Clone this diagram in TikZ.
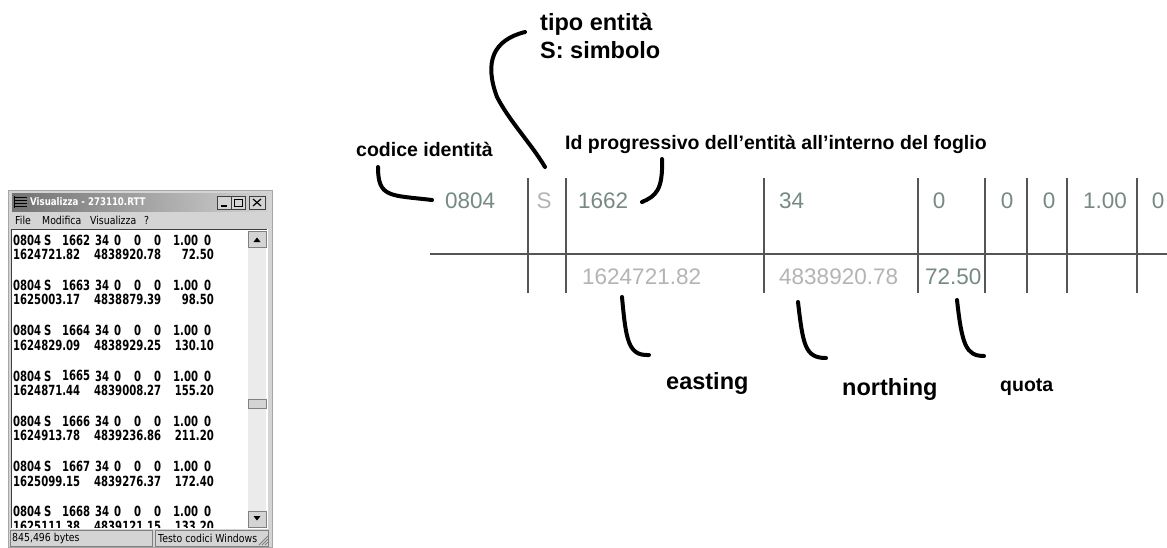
\documentclass[tikz,border=0pt]{standalone}
\usepackage{fontspec}
\setmainfont{Liberation Sans}
\newfontfamily\winfont[FakeStretch=0.72]{DejaVu Sans}
\newfontfamily\wintitle[FakeStretch=0.82]{DejaVu Sans}
\newfontfamily\winreg[FakeStretch=0.85]{DejaVu Sans}
\definecolor{valgreen}{HTML}{768A83}
\definecolor{vallight}{HTML}{B4B4B4}
\definecolor{gridgray}{HTML}{555555}
\definecolor{winface}{HTML}{D4D4D4}
\definecolor{windark}{HTML}{404040}
\tikzset{
  val/.style={font=\fontsize{22.5}{26}\selectfont, text=valgreen, inner sep=0pt},
  vallt/.style={val, text=vallight},
  lbl/.style={font=\bfseries\fontsize{19.5}{22}\selectfont, inner sep=0pt, anchor=base west},
  lblbig/.style={font=\bfseries\fontsize{23.5}{26}\selectfont, inner sep=0pt, anchor=base west},
  hand/.style={line width=4pt, line cap=round, line join=round},
  gridline/.style={draw=gridgray, line width=1.2pt},
  wt/.style={font=\winfont\bfseries\fontsize{14}{16}\selectfont, inner sep=0pt},
  wmenu/.style={font=\winreg\fontsize{11}{12}\selectfont, inner sep=0pt, anchor=west},
  wbtn/.style={fill=winface, draw=windark, line width=0.7pt}
}
\begin{document}
\begin{tikzpicture}[x=1pt,y=-1pt]
\useasboundingbox (0,0) rectangle (1167,547);
\fill[white] (0,0) rectangle (1167,547);

% ---------------- window ----------------
\draw[fill=winface, draw=gray!70] (8,190) rectangle (272,547);
\shade[left color=black!55, right color=black!18] (12,193) rectangle (268,211);
% icon
\foreach \yy in {197,200,203,206}
  \draw[black, line width=1pt] (14,\yy) -- (27,\yy);
\draw[black, line width=1pt] (14,196) -- (14,208);
\node[font=\wintitle\bfseries\fontsize{10.5}{12}\selectfont, text=white, anchor=west, inner sep=0pt] (title) at (30,202) {Visualizza - 273110.RTT};
% buttons
\draw[wbtn] (217,196) rectangle (231,209);
\draw[wbtn] (231,196) rectangle (245,209);
\draw[wbtn] (249,196) rectangle (265,209);
\draw[black, line width=1.3pt] (221,206) -- (227,206);
\draw[black, line width=0.8pt] (234,199) rectangle (242,206);
\draw[black, line width=1.3pt] (234,199.7) -- (242,199.7);
\draw[black, line width=1.2pt] (253,199) -- (261,206) (253,206) -- (261,199);
% menu
\node[wmenu] (mfile) at (15,220) {File};
\node[wmenu] (mmod) at (42,220) {Modifica};
\node[wmenu] (mvis) at (90,220) {Visualizza};
\node[wmenu] (mq) at (144,220) {?};
% client area
\fill[white] (11,229) rectangle (267,528);
\draw[windark, line width=1pt] (11,528) -- (11,229) -- (267,229);
\draw[white, line width=1pt] (267,229) -- (267,528) -- (11,528);
% scrollbar
\fill[black!8] (248,247) rectangle (266,511);
\draw[wbtn, draw=gray] (248,231) rectangle (266,247);
\fill[black] (253.5,242) -- (260.5,242) -- (257,237.5) -- cycle;
\draw[wbtn, draw=gray] (248,511) rectangle (266,527);
\fill[black] (253.5,516) -- (260.5,516) -- (257,520.5) -- cycle;
\draw[wbtn, draw=gray] (248,399) rectangle (266,408);
% text lines
\begin{scope}
\clip (12,230) rectangle (247,527);
\foreach \i/\id/\ea/\no/\qu in {0/1662/1624721.82/4838920.78/72.50,
  1/1663/1625003.17/4838879.39/98.50,
  2/1664/1624829.09/4838929.25/130.10,
  3/1665/1624871.44/4839008.27/155.20,
  4/1666/1624913.78/4839236.86/211.20,
  5/1667/1625099.15/4839276.37/172.40,
  6/1668/1625111.38/4839121.15/133.20}{
  \pgfmathsetmacro{\ya}{240+45.3*\i}
  \pgfmathsetmacro{\yb}{\ya+14.5}
  \node[wt, anchor=west] (c\i) at (13,\ya) {0804};
  \node[wt, anchor=west] (s\i) at (44,\ya) {S};
  \node[wt, anchor=west] (p\i) at (62,\ya) {\id};
  \node[wt, anchor=west] (k\i) at (95,\ya) {34};
  \node[wt, anchor=west] (za\i) at (114,\ya) {0};
  \node[wt, anchor=west] (zb\i) at (134,\ya) {0};
  \node[wt, anchor=west] (zc\i) at (154,\ya) {0};
  \node[wt, anchor=west] (f\i) at (173,\ya) {1.00};
  \node[wt, anchor=west] (zd\i) at (204,\ya) {0};
  \node[wt, anchor=west] (e\i) at (13,\yb) {\ea};
  \node[wt, anchor=west] (n\i) at (94,\yb) {\no};
  \node[wt, anchor=east] (q\i) at (214,\yb) {\qu};
}
\end{scope}
% status bar
\draw[fill=winface, draw=gray] (10,530) rectangle (152,546);
\draw[fill=winface, draw=gray] (155,530) rectangle (268,546);
\node[wmenu] (sb1) at (12,538) {845,496 bytes};
\node[wmenu] (sb2) at (158,538) {Testo codici Windows};
\foreach \d in {3,6,9}
  \draw[gray, line width=0.8pt] (268-\d,545) -- (268,545-\d);

% ---------------- table ----------------
\draw[gridline] (430,254) -- (1167,254);
\foreach \xx in {528,566,764,918,985,1027,1067,1137}
  \draw[gridline] (\xx,178) -- (\xx,293);

\node[val, anchor=west] (v0804) at (445,201) {0804};
\node[vallt] (vS) at (544,201) {S};
\node[val, anchor=west] (v1662) at (578,201) {1662};
\node[val, anchor=west] (v34) at (779,201) {34};
\node[val] (vz1) at (939,201) {0};
\node[val] (vz2) at (1007,201) {0};
\node[val] (vz3) at (1049,201) {0};
\node[val] (vone) at (1105,201) {1.00};
\node[val] (vz4) at (1158,201) {0};
\node[vallt, anchor=west] (vE) at (582,277) {1624721.82};
\node[vallt, anchor=west] (vN) at (779,277) {4838920.78};
\node[val, anchor=west] (vQ) at (925,277) {72.50};

% ---------------- labels ----------------
\node[lblbig] (ltipo) at (540,30) {tipo entità};
\node[lblbig] (lsimb) at (540,58) {S: simbolo};
\node[lbl] (lcod) at (356,156) {codice identità};
\node[lbl] (lid) at (565,149) {Id progressivo dell’entità all’interno del foglio};
\node[lblbig] (least) at (666,389) {easting};
\node[lblbig] (lnorth) at (842,395) {northing};
\node[lbl] (lquota) at (1000,391) {quota};

% ---------------- hand-drawn connectors ----------------
\coordinate (h1a) at (378,167);
\coordinate (h1b) at (432,200);
\draw[hand] (h1a) .. controls (378,198) and (390,195) .. (h1b);
\coordinate (h2a) at (525,32);
\coordinate (h2m) at (497,97);
\coordinate (h2b) at (545,167);
\draw[hand] (h2a) .. controls (493,40) and (484,62) .. (h2m) .. controls (510,122) and (530,142) .. (h2b);
\coordinate (h3a) at (662,159);
\coordinate (h3b) at (642,202);
\draw[hand] (h3a) .. controls (663,190) and (656,196) .. (h3b);
\coordinate (h4a) at (622,297);
\coordinate (h4b) at (649,355);
\draw[hand] (h4a) .. controls (626,340) and (628,356) .. (h4b);
\coordinate (h5a) at (798,302);
\coordinate (h5b) at (826,358);
\draw[hand] (h5a) .. controls (803,345) and (805,358) .. (h5b);
\coordinate (h6a) at (957,300);
\coordinate (h6b) at (984,356);
\draw[hand] (h6a) .. controls (962,345) and (966,356) .. (h6b);
\end{tikzpicture}
\end{document}
